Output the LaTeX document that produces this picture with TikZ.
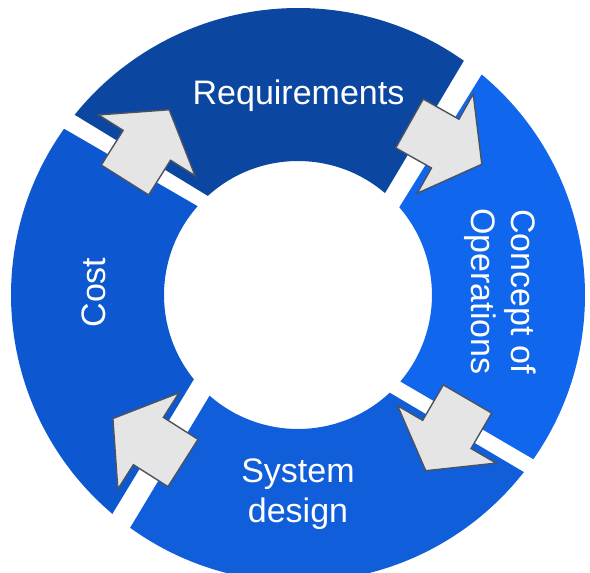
\documentclass[tikz,border=0pt]{standalone}
\usepackage{fontspec}
\setmainfont{Liberation Sans}
\usepackage{tikz}

\definecolor{reqblue}{HTML}{0B47A0}
\definecolor{costblue}{HTML}{0D58D0}
\definecolor{sysblue}{HTML}{105EDA}
\definecolor{conblue}{HTML}{1066EC}
\definecolor{arrowfill}{HTML}{E5E5E5}
\definecolor{arrowline}{HTML}{4B5361}

\tikzset{
	label/.style={text=white, inner sep=0pt, align=center, font=\fontsize{34}{40}\selectfont},
	blockarrow/.style={fill=arrowfill, draw=arrowline, line width=1.4pt, line join=miter}
}

\begin{document}
\begin{tikzpicture}[x=1pt,y=1pt]
\useasboundingbox (-298,-278) rectangle (292,295);

% ring segments: colour / outer start / outer end / inner start / inner end
\foreach \col/\oa/\ob/\ia/\ib in {reqblue/54.7/141.1/49.5/132.3, costblue/144.6/229.7/138.5/219.0, sysblue/234.2/321.9/228.7/313.2, conblue/325.1/410.2/319.8/400.9}
	\fill[\col] (\oa:287) arc[start angle=\oa, end angle=\ob, radius=287] -- (\ib:134) arc[start angle=\ib, end angle=\ia, radius=134] -- cycle;

% block arrows in the gaps
\foreach \px/\py/\a in {-173/115/57.8, 111.5/171.5/-29.4, 169.5/-104/-120.2, -115/-168/147.6}
	\draw[blockarrow, shift={(\px,\py)}, rotate=\a] (0,-28) -- (41,-28) -- (41,-57) -- (83,0) -- (41,57) -- (41,28) -- (0,28) -- cycle;

\node[label, anchor=base] (req) at (0.5,190) {Requirements};
\node[label, rotate=-90] (conops) at (202,3.5) {Concept of\\Operations};
\node[label] (sysdes) at (0,-199) {System\\design};
\node[label, anchor=base, rotate=90] (cost) at (-192,2.5) {Cost};
\end{tikzpicture}
\end{document}
